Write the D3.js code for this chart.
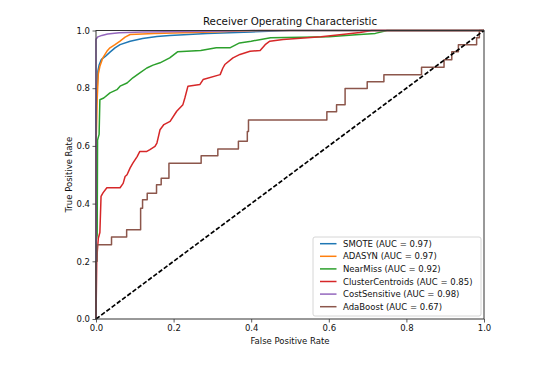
<!DOCTYPE html>
<html>
<head>
<meta charset="utf-8">
<script src="https://cdn.jsdelivr.net/npm/d3@7"></script>
<style>
  html, body { margin: 0; padding: 0; background: #fff; }
  text { font-family: "DejaVu Sans", sans-serif; fill: #111; }
</style>
</head>
<body>
<svg id="chart" width="546" height="374"></svg>
<script>
// ROC points [fpr, tpr]
const smote = [[0,0],[0,0.72],[0.003,0.80],[0.005,0.86],[0.008,0.88],[0.014,0.90],[0.024,0.91],[0.036,0.925],[0.049,0.94],[0.062,0.951],[0.088,0.963],[0.12,0.972],[0.157,0.979],[0.19,0.983],[0.286,0.99],[0.4,0.995],[0.5,1],[1,1]];
const adasyn = [[0,0],[0,0.6],[0.002,0.7],[0.003,0.76],[0.005,0.82],[0.006,0.85],[0.01,0.876],[0.018,0.906],[0.028,0.928],[0.036,0.94],[0.049,0.951],[0.062,0.963],[0.075,0.977],[0.088,0.986],[0.15,0.99],[0.3,0.995],[0.42,1],[1,1]];
const nearMiss = [[0,0],[0,0.27],[0.003,0.29],[0.004,0.62],[0.008,0.64],[0.01,0.76],[0.02,0.766],[0.036,0.784],[0.054,0.795],[0.062,0.807],[0.08,0.818],[0.095,0.836],[0.113,0.853],[0.131,0.87],[0.147,0.88],[0.165,0.888],[0.19,0.905],[0.21,0.926],[0.27,0.931],[0.31,0.94],[0.345,0.94],[0.37,0.957],[0.4,0.963],[0.45,0.975],[0.53,0.977],[0.6,0.978],[0.67,0.985],[0.72,0.99],[0.75,1],[1,1]];
const clusterCentroids = [[0,0],[0.002,0.21],[0.006,0.28],[0.01,0.3],[0.013,0.425],[0.018,0.437],[0.028,0.455],[0.062,0.455],[0.07,0.47],[0.075,0.494],[0.08,0.5],[0.088,0.524],[0.095,0.54],[0.106,0.563],[0.113,0.581],[0.131,0.581],[0.139,0.587],[0.152,0.598],[0.157,0.61],[0.16,0.627],[0.165,0.656],[0.175,0.674],[0.191,0.685],[0.208,0.72],[0.224,0.743],[0.229,0.766],[0.237,0.807],[0.268,0.813],[0.276,0.83],[0.32,0.847],[0.327,0.87],[0.332,0.882],[0.353,0.905],[0.371,0.917],[0.397,0.928],[0.423,0.931],[0.436,0.951],[0.448,0.963],[0.482,0.969],[0.518,0.972],[0.58,0.978],[0.64,0.987],[0.68,0.993],[0.71,1],[1,1]];
const costSensitive = [[0,0],[0,0.97],[0.005,0.978],[0.015,0.983],[0.03,0.988],[0.06,0.992],[0.12,0.995],[0.3,0.997],[0.4,1],[1,1]];
const adaBoost = [[0,0],[0,0.2],[0.003,0.2],[0.003,0.257],[0.04,0.257],[0.04,0.284],[0.079,0.284],[0.079,0.309],[0.115,0.309],[0.115,0.384],[0.12,0.384],[0.12,0.413],[0.132,0.413],[0.132,0.436],[0.156,0.436],[0.156,0.465],[0.168,0.465],[0.168,0.488],[0.188,0.488],[0.188,0.54],[0.271,0.54],[0.271,0.566],[0.314,0.566],[0.314,0.589],[0.367,0.589],[0.367,0.616],[0.39,0.616],[0.39,0.65],[0.393,0.65],[0.393,0.69],[0.595,0.69],[0.595,0.718],[0.62,0.718],[0.62,0.743],[0.642,0.743],[0.642,0.799],[0.699,0.799],[0.699,0.822],[0.742,0.822],[0.742,0.847],[0.839,0.847],[0.839,0.873],[0.897,0.873],[0.897,0.899],[0.917,0.899],[0.917,0.926],[0.934,0.926],[0.934,0.951],[0.981,0.951],[0.981,0.975],[0.988,0.975],[0.988,1],[1,1]];
const chance = [[0,0],[1,1]];

const seriesNames = ["SMOTE", "ADASYN", "NearMiss", "ClusterCentroids", "CostSensitive", "AdaBoost"];
const seriesAuc = [0.97, 0.97, 0.92, 0.85, 0.98, 0.67];
const seriesData = [smote, adasyn, nearMiss, clusterCentroids, costSensitive, adaBoost];
const seriesColors = ["#1f77b4", "#ff7f0e", "#2ca02c", "#d62728", "#9467bd", "#8c564b"];
const tickValues = [0, 0.2, 0.4, 0.6, 0.8, 1.0];

const plotLeft = 96, plotRight = 484, plotTop = 30.5, plotBottom = 319;
const svg = d3.select("#chart");
svg.append("rect").attr("width", 546).attr("height", 374).attr("fill", "#fff");

const x = d3.scaleLinear().domain([0, 1]).range([plotLeft, plotRight]);
const y = d3.scaleLinear().domain([0, 1]).range([plotBottom, plotTop]);

const line = d3.line().x(d => x(d[0])).y(d => y(d[1]));

// curves
const gLines = svg.append("g");
seriesData.forEach((data, i) => {
    gLines.append("path")
        .attr("d", line(data))
        .attr("fill", "none")
        .attr("stroke", seriesColors[i])
        .attr("stroke-width", 1.5)
        .attr("stroke-linejoin", "round");
});
// diagonal
gLines.append("path")
    .attr("d", line(chance))
    .attr("fill", "none")
    .attr("stroke", "#000")
    .attr("stroke-width", 1.7)
    .attr("stroke-dasharray", "4.5,2");

// axes
const xAxis = svg.append("g")
    .attr("transform", `translate(0,${plotBottom})`)
    .call(d3.axisBottom(x).tickValues(tickValues).tickFormat(d3.format(".1f")).tickSize(3.5).tickPadding(2));
const yAxis = svg.append("g")
    .attr("transform", `translate(${plotLeft},0)`)
    .call(d3.axisLeft(y).tickValues(tickValues).tickFormat(d3.format(".1f")).tickSize(3.5).tickPadding(2.5));
[xAxis, yAxis].forEach(a => {
    a.select(".domain").remove();
    a.selectAll("line").attr("stroke", "#333").attr("stroke-width", 0.8);
    a.selectAll("text").attr("font-size", "8.5px").attr("font-family", "DejaVu Sans").attr("fill", "#111");
});

// frame
svg.append("rect")
    .attr("x", plotLeft).attr("y", plotTop)
    .attr("width", plotRight - plotLeft).attr("height", plotBottom - plotTop)
    .attr("fill", "none").attr("stroke", "#333").attr("stroke-width", 1);

// labels
svg.append("text")
    .attr("x", (plotLeft + plotRight) / 2).attr("y", 24.5)
    .attr("text-anchor", "middle").attr("font-size", "10.3px")
    .text("Receiver Operating Characteristic");
svg.append("text")
    .attr("x", (plotLeft + plotRight) / 2).attr("y", 344)
    .attr("text-anchor", "middle").attr("font-size", "8.5px")
    .text("False Positive Rate");
svg.append("text")
    .attr("transform", `translate(71.5,${(plotTop + plotBottom) / 2}) rotate(-90)`)
    .attr("text-anchor", "middle").attr("font-size", "8.5px")
    .text("True Positive Rate");

// legend
const legend = svg.append("g");
legend.append("rect")
    .attr("x", 313).attr("y", 237).attr("width", 168).attr("height", 79)
    .attr("rx", 2).attr("fill", "#fff").attr("fill-opacity", 0.8)
    .attr("stroke", "#ccc").attr("stroke-width", 0.8);
seriesNames.forEach((name, i) => {
    const cy = 243.7 + i * 12.6;
    legend.append("line")
        .attr("x1", 320).attr("x2", 336.5).attr("y1", cy).attr("y2", cy)
        .attr("stroke", seriesColors[i]).attr("stroke-width", 1.5);
    legend.append("text")
        .attr("x", 343).attr("y", cy + 3)
        .attr("font-size", "8.5px")
        .text(`${name} (AUC = ${seriesAuc[i].toFixed(2)})`);
});
</script>
</body>
</html>
